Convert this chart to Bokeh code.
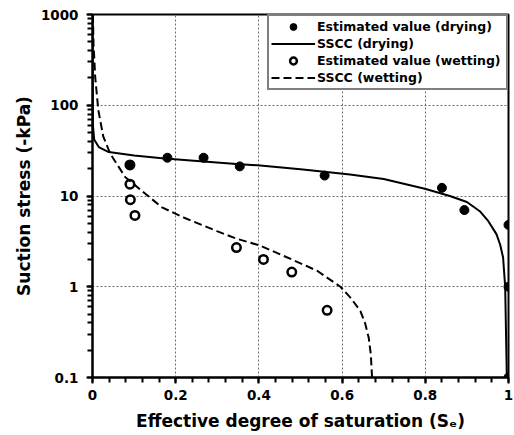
from bokeh.plotting import figure
from bokeh.models import (SingleIntervalTicker, LogTicker, CustomJSTickFormatter,
                          Legend, LegendItem)
from bokeh.embed import file_html
from bokeh.resources import INLINE

# ---- data ----
dry_se = [0.09, 0.18, 0.267, 0.354, 0.558, 0.840, 0.894, 1.0, 1.0, 1.0]
dry_ss = [22.0, 26.4, 26.4, 21.2, 16.8, 12.3, 7.0, 4.8, 1.0, 0.1]

wet_se = [0.09, 0.09, 0.091, 0.102, 0.346, 0.411, 0.479, 0.564]
wet_ss = [22.0, 13.5, 9.1, 6.1, 2.7, 2.0, 1.45, 0.55]

sscc_dry_se = [0.0, 0.001, 0.004, 0.015, 0.039, 0.10, 0.167, 0.267, 0.354, 0.403,
               0.50, 0.619, 0.70, 0.799, 0.859, 0.90, 0.931, 0.95, 0.971, 0.98,
               0.987, 0.992, 0.996]
sscc_dry_ss = [1000, 60, 42, 34.6, 30.5, 28.0, 26.0, 24.0, 22.4, 21.7,
               19.7, 17.3, 15.4, 12.0, 10.0, 8.6, 6.8, 5.4, 3.8, 2.9,
               2.1, 1.0, 0.1]

sscc_wet_se = [0.001, 0.0024, 0.0065, 0.014, 0.026, 0.043, 0.079, 0.127, 0.167,
               0.219, 0.299, 0.345, 0.403, 0.479, 0.54, 0.596, 0.62, 0.644,
               0.655, 0.664, 0.669, 0.672]
sscc_wet_ss = [1000, 480, 204, 88, 45, 29, 16.1, 10.6, 7.5,
               5.8, 4.1, 3.4, 2.84, 2.0, 1.5, 1.0, 0.76, 0.54,
               0.4, 0.275, 0.18, 0.1]

x_tick_step = 0.2
FONT = "DejaVu Sans"

p = figure(width=514, height=435, y_axis_type="log",
           x_range=(0, 1), y_range=(0.1, 1000),
           output_backend="svg", toolbar_location=None,
           min_border_left=92, min_border_right=6,
           min_border_top=14, min_border_bottom=58)

p.outline_line_color = "black"
p.outline_line_width = 2
p.background_fill_color = "white"
p.border_fill_color = "white"

fmt = CustomJSTickFormatter(code="return String(Math.round(tick*10)/10);")

p.xaxis.ticker = SingleIntervalTicker(interval=x_tick_step, num_minor_ticks=5)
p.yaxis.ticker = LogTicker(desired_num_ticks=5, num_minor_ticks=10)
p.xaxis.formatter = fmt
p.yaxis.formatter = fmt

for ax in (p.xaxis[0], p.yaxis[0]):
    ax.axis_line_width = 2
    ax.axis_line_color = "black"
    ax.major_tick_line_color = "black"
    ax.minor_tick_line_color = "black"
    ax.major_tick_line_width = 2
    ax.minor_tick_line_width = 2
    ax.major_tick_in = 0
    ax.major_tick_out = 6
    ax.minor_tick_in = 0
    ax.minor_tick_out = 5
    ax.major_label_text_font = FONT
    ax.major_label_text_font_style = "bold"
    ax.major_label_text_font_size = "13.5px"
    ax.major_label_text_color = "black"
    ax.axis_label_text_font = FONT
    ax.axis_label_text_font_style = "bold"
    ax.axis_label_text_font_size = "17px"
    ax.axis_label_text_color = "black"

p.xaxis.axis_label = "Effective degree of saturation (S\u2091)"
p.yaxis.axis_label = "Suction stress (-kPa)"
p.xaxis.major_label_standoff = 6
p.yaxis.major_label_standoff = 8
p.xaxis.axis_label_standoff = 8
p.yaxis.axis_label_standoff = 4

p.grid.grid_line_color = "#6e6e6e"
p.grid.grid_line_dash = "2 2"
p.grid.grid_line_width = 1
p.grid.minor_grid_line_color = None

r_wline = p.line(sscc_wet_se, sscc_wet_ss, line_color="black", line_width=2,
                 line_dash="8 4")
r_dline = p.line(sscc_dry_se, sscc_dry_ss, line_color="black", line_width=2)
r_wpts = p.scatter(wet_se, wet_ss, marker="circle", size=8.5,
                   fill_alpha=0, line_color="black", line_width=2.5)
r_dpts = p.scatter(dry_se, dry_ss, marker="circle", size=9,
                   fill_color="black", line_color="black", line_width=1)

legend = Legend(items=[
    LegendItem(label="Estimated value (drying)", renderers=[r_dpts]),
    LegendItem(label="SSCC (drying)", renderers=[r_dline]),
    LegendItem(label="Estimated value (wetting)", renderers=[r_wpts]),
    LegendItem(label="SSCC (wetting)", renderers=[r_wline]),
], location="top_right")
legend.margin = 0
legend.padding = 2
legend.spacing = 0
legend.glyph_width = 44
legend.glyph_height = 17
legend.label_height = 17
legend.label_width = 187
legend.label_standoff = 2
legend.label_text_font = FONT
legend.label_text_font_style = "bold"
legend.label_text_font_size = "12.5px"
legend.label_text_color = "black"
legend.border_line_color = "black"
legend.border_line_width = 2
legend.background_fill_color = "white"
legend.background_fill_alpha = 1
p.add_layout(legend, "center")

open("out.html", "w").write(file_html(p, INLINE))
